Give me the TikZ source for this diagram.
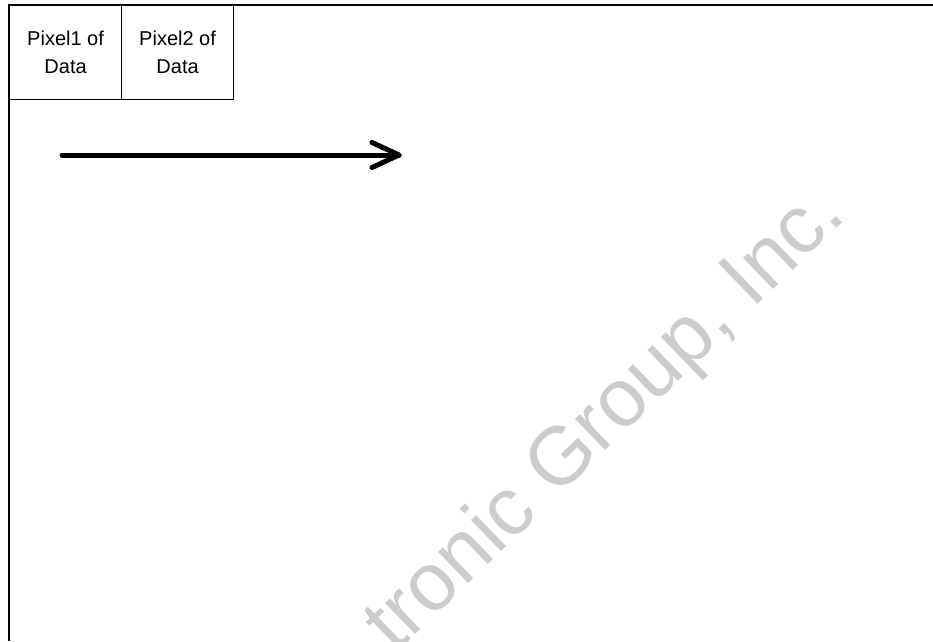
\documentclass[tikz,border=0pt]{standalone}
\usepackage{fontspec}
\setmainfont{Liberation Sans}
\usetikzlibrary{calc}
\begin{document}
\begin{tikzpicture}[x=1pt,y=-1pt,
  cellbox/.style={draw=black, line width=1.2pt, rectangle, inner sep=0pt,
    minimum width=112pt, minimum height=94pt, anchor=north west,
    align=center, font=\fontsize{20pt}{28pt}\selectfont},
  frameline/.style={draw=black, line width=1.6pt},
  flowarrow/.style={draw=black, line width=5pt, line cap=round, line join=round},
  watermark/.style={text=black!20, font=\fontsize{82pt}{90pt}\selectfont, inner sep=0pt}]
\useasboundingbox (0,0) rectangle (933,641);
\clip (0,0) rectangle (933,641);
% watermark
\node[watermark, rotate=44, anchor=base east] (wm) at (848,217) {tronic Group, Inc.};
% frame
\coordinate (fr) at (933,5);
\coordinate (fo) at (9,5);
\coordinate (fb) at (9,641);
\draw[frameline] (fb) -- (fo) -- (fr);
% cells
\node[cellbox] (p1) at (9,5) {Pixel1 of\\Data};
\node[cellbox] (p2) at (121,5) {Pixel2 of\\Data};
% arrow
\coordinate (as) at (62,155);
\coordinate (ae) at (399,155);
\draw[flowarrow] (as) -- (ae);
\draw[flowarrow] ($(ae)+(-27,-12.5)$) -- (ae) -- ($(ae)+(-27,12.5)$);
\end{tikzpicture}
\end{document}
